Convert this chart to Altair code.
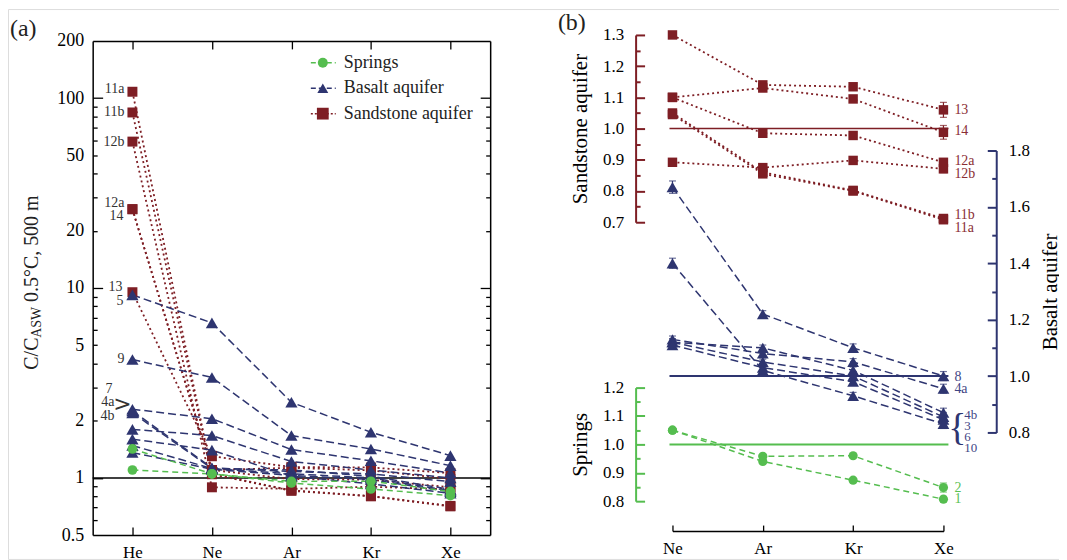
import altair as alt
import pandas as pd

W, H = 1055, 552
FONT = "Liberation Serif, Times New Roman, Tinos, DejaVu Serif, serif"
GREEN = "#55BD4F"
NAVY = "#2E3570"
RED = "#7E1E24"

# ---------------- data ----------------
elements_a = ["He", "Ne", "Ar", "Kr", "Xe"]
elements_b = ["Ne", "Ar", "Kr", "Xe"]

spring_ids = ["1", "2"]
spring_vals = [[1.42, 1.05, 0.940, 0.874, 0.807],
               [1.10, 1.05, 0.958, 0.960, 0.848]]
spring_err = [[0.004, 0.006, 0.006, 0.010],
              [0.004, 0.006, 0.006, 0.016]]

basalt_ids = ["3", "4a", "4b", "5", "6", "7", "8", "9", "10"]
basalt_vals = [[1.48, 1.12, 1.05, 1.00, 0.855],
               [2.25, 1.13, 1.08, 1.05, 0.955],
               [2.20, 1.12, 1.10, 1.02, 0.870],
               [9.20, 6.55, 2.50, 1.74, 1.31],
               [1.36, 1.11, 1.03, 0.98, 0.845],
               [2.30, 2.05, 1.41, 1.23, 1.06],
               [1.80, 1.67, 1.22, 1.10, 1.00],
               [4.20, 3.38, 1.67, 1.42, 1.16],
               [1.60, 1.40, 1.02, 0.93, 0.830]]
basalt_err = [[0.012, 0.010, 0.012, 0.016],
              [0.012, 0.010, 0.012, 0.016],
              [0.012, 0.010, 0.012, 0.016],
              [0.030, 0.020, 0.020, 0.020],
              [0.012, 0.010, 0.012, 0.016],
              [0.020, 0.012, 0.012, 0.016],
              [0.022, 0.012, 0.014, 0.016],
              [0.030, 0.020, 0.020, 0.020],
              [0.018, 0.010, 0.012, 0.016]]
basalt_in_b = ["3", "4a", "4b", "6", "8", "10"]

sand_ids = ["11a", "11b", "12a", "12b", "13", "14"]
sand_vals = [[108.0, 1.050, 0.860, 0.802, 0.712],
             [84.0, 1.045, 0.855, 0.800, 0.708],
             [26.0, 1.100, 0.985, 0.978, 0.892],
             [59.0, 0.892, 0.875, 0.898, 0.871],
             [9.5, 1.300, 1.140, 1.134, 1.060],
             [26.0, 1.100, 1.130, 1.095, 0.988]]
sand_err = [[0.005, 0.006, 0.006, 0.008],
            [0.005, 0.006, 0.006, 0.008],
            [0.005, 0.008, 0.008, 0.012],
            [0.005, 0.008, 0.008, 0.012],
            [0.006, 0.010, 0.010, 0.024],
            [0.006, 0.010, 0.010, 0.022]]

legend_names = ["Springs", "Basalt aquifer", "Sandstone aquifer"]


def long_df(group, ids, vals, elements, errs=None, keep=None):
    rows = []
    for k, (sid, v) in enumerate(zip(ids, vals)):
        if keep is not None and sid not in keep:
            continue
        vv = v[len(v) - len(elements):]
        ee = errs[k] if errs is not None else [0.0] * len(elements)
        for i, (el, val, e) in enumerate(zip(elements, vv, ee)):
            rows.append(dict(group=group, sample=sid, element=el, idx=i,
                             value=val, lo=val - e, hi=val + e))
    return pd.DataFrame(rows)


dfa = {
    "Springs": long_df("Springs", spring_ids, spring_vals, elements_a),
    "Basalt": long_df("Basalt", basalt_ids, basalt_vals, elements_a),
    "Sandstone": long_df("Sandstone", sand_ids, sand_vals, elements_a),
}
dfb = {
    "Springs": long_df("Springs", spring_ids, spring_vals, elements_b, spring_err),
    "Basalt": long_df("Basalt", basalt_ids, basalt_vals, elements_b, basalt_err, basalt_in_b),
    "Sandstone": long_df("Sandstone", sand_ids, sand_vals, elements_b, sand_err),
}

STYLE = {
    "Springs": dict(color=GREEN, dash=[6, 4], shape="circle", size=95, sw=1.5),
    "Basalt": dict(color=NAVY, dash=[8, 4], shape="triangle-up", size=150, sw=1.5),
    "Sandstone": dict(color=RED, dash=[2, 3], shape="square", size=100, sw=1.8),
}

# ---------------- scales ----------------
def xa(axis=None):
    return alt.X("element:N", title=None, axis=axis,
                 scale=alt.Scale(type="point", domain=elements_a, range=[85, 484], padding=0.5))


def ya(field="value", axis=None):
    return alt.Y(f"{field}:Q", title=None, axis=axis,
                 scale=alt.Scale(type="log", domain=[0.5, 200], range=[528, 32], nice=False))


def xb(axis=None):
    return alt.X("element:N", title=None, axis=axis,
                 scale=alt.Scale(type="point", domain=elements_b, range=[667, 939], padding=0))


YB = {
    "Sandstone": ([0.7, 1.3], [214, 26]),
    "Basalt": ([0.8, 1.8], [425, 142]),
    "Springs": ([0.8, 1.2], [494, 380]),
}


def yb(group, field="value", axis=None):
    dom, rng = YB[group]
    return alt.Y(f"{field}:Q", title=None, axis=axis,
                 scale=alt.Scale(domain=dom, range=rng, nice=False, zero=False))


def ax(**kw):
    base = dict(grid=False, labelFont=FONT, labelColor="black", titleFont=FONT,
                titleColor="black", titleFontWeight="normal", labelFlush=False,
                labelOverlap=False)
    base.update(kw)
    return alt.Axis(**base)


def tick_axis(orient, offset, size, color, width=1.3, values=None, domain=False, dwidth=1.5):
    kw = dict(orient=orient, offset=offset, ticks=True, tickSize=size, tickColor=color,
              tickWidth=width, labels=False, domain=domain, title=None)
    if values is not None:
        kw["values"] = values
    if domain:
        kw.update(domainColor=color, domainWidth=dwidth)
    return ax(**kw)


carrier_df = pd.DataFrame({"element": ["Ne"], "value": [1.0]})


def carrier(x, y):
    return alt.Chart(carrier_df).mark_point(opacity=0).encode(x=x, y=y)


layers = []

# ---------------- panel (a) axes ----------------
MAJOR_A = [1, 10, 100]
MINOR_A = [0.6, 0.7, 0.8, 0.9, 2, 3, 4, 5, 6, 7, 8, 9, 20, 30, 40, 50, 60, 70, 80, 90]

ya_lab = ax(orient="left", offset=-85, values=[0.5, 1, 2, 5, 10, 20, 50, 100, 200],
            format="~g", ticks=False, tickSize=0, domain=True, domainColor="black",
            domainWidth=1.5, labelPadding=9, labelFontSize=18, title=None)
xa_lab = ax(orient="bottom", offset=528 - H, ticks=False, tickSize=0, domain=True,
            domainColor="black", domainWidth=1.5, labelPadding=10, labelFontSize=17,
            labelAngle=0, labelAlign="center", labelBaseline="top", title=None)

layers += [
    carrier(xa(xa_lab), ya(axis=ya_lab)),
    carrier(xa(tick_axis("top", -528, 8, "black")),
            ya(axis=tick_axis("right", 85 - W, 10, "black", values=MAJOR_A))),
    carrier(xa(tick_axis("bottom", 32 - H, 8, "black", domain=True)),
            ya(axis=tick_axis("right", 85 - W, 4.5, "black", values=MINOR_A))),
    carrier(xa(), ya(axis=tick_axis("left", -484, 10, "black", values=MAJOR_A, domain=True))),
    carrier(xa(), ya(axis=tick_axis("left", -484, 4.5, "black", values=MINOR_A))),
]

# reference line at 1
layers.append(alt.Chart(pd.DataFrame({"value": [1.0]})).mark_rule(color="black", strokeWidth=1.5)
              .encode(y=ya(), x=alt.value(85), x2=alt.value(484)))

order_groups = ["Sandstone", "Basalt", "Springs"]
for g in order_groups:
    s = STYLE[g]
    layers.append(alt.Chart(dfa[g]).mark_line(color=s["color"], strokeDash=s["dash"],
                                              strokeWidth=s["sw"])
                  .encode(x=xa(), y=ya(), detail="sample:N", order="idx:Q"))
for g in order_groups:
    s = STYLE[g]
    layers.append(alt.Chart(dfa[g]).mark_point(filled=True, shape=s["shape"], size=s["size"],
                                               color=s["color"], opacity=1)
                  .encode(x=xa(), y=ya()))

# labels at He
he_val = {}
for ids, vals in [(spring_ids, spring_vals), (basalt_ids, basalt_vals), (sand_ids, sand_vals)]:
    for sid, v in zip(ids, vals):
        he_val[sid] = v[0]

labels_a = [("11a", "11a", -3, -8), ("11b", "11b", 0, -8), ("12b", "12b", 0, -8),
            ("12a", "12a", -6, -8), ("14", "14", 7, -9), ("13", "13", -5, -10),
            ("5", "5", 6, -9), ("9", "9", -1, -8), ("7", "4a", -22, -20),
            ("4a", "4a", -9, -18), ("4b", "4a", 5, -18)]
for text, anchor, dy, dx in labels_a:
    d = pd.DataFrame({"element": ["He"], "value": [he_val[anchor]], "t": [text]})
    layers.append(alt.Chart(d).mark_text(align="right", baseline="middle", dx=dx, dy=dy,
                                         font=FONT, fontSize=14, color="#333333")
                  .encode(x=xa(), y=ya(), text="t:N"))
d = pd.DataFrame({"element": ["He"], "value": [he_val["4a"]], "t": [">"]})
layers.append(alt.Chart(d).mark_text(align="center", baseline="middle", dx=-10, dy=-7,
                                     font="DejaVu Sans", fontSize=22, color="#333333")
              .encode(x=xa(), y=ya(), text="t:N"))

# legend (panel a)
leg_df = pd.DataFrame({"name": legend_names})
ly = alt.Y("name:N", axis=None, scale=alt.Scale(type="point", domain=legend_names,
                                                  range=[54, 105], padding=0))
lcol = alt.Color("name:N", legend=None,
                 scale=alt.Scale(domain=legend_names, range=[GREEN, NAVY, RED]))
layers += [
    alt.Chart(leg_df).mark_rule(strokeWidth=1.5).encode(
        y=ly, x=alt.value(304), x2=alt.value(329), color=lcol,
        strokeDash=alt.StrokeDash("name:N", legend=None,
                                  scale=alt.Scale(domain=legend_names,
                                                  range=[[5, 3], [5, 3], [2, 2]]))),
    alt.Chart(leg_df).mark_point(filled=True, opacity=1).encode(
        y=ly, x=alt.value(316), color=lcol,
        size=alt.Size("name:N", legend=None,
                      scale=alt.Scale(domain=legend_names, range=[100, 140, 100])),
        shape=alt.Shape("name:N", legend=None,
                        scale=alt.Scale(domain=legend_names,
                                        range=["circle", "triangle-up", "square"]))),
    alt.Chart(leg_df).mark_text(align="left", baseline="middle", font=FONT, fontSize=18,
                                color="#222222").encode(y=ly, x=alt.value(337), text="name:N"),
]

# y title of panel (a) with subscript
for txt, xx, yy, fs in [("C/C", 30, 362, 20), ("ASW", 33, 330, 14), ("0.5°C, 500 m", 30, 294, 20)]:
    layers.append(alt.Chart(pd.DataFrame({"t": [txt]})).mark_text(
        angle=270, align="left", baseline="alphabetic", font=FONT, fontSize=fs, color="#222222")
        .encode(x=alt.value(xx), y=alt.value(yy), text="t:N"))

for txt, xx, yy in [("(a)", 2, 27), ("(b)", 552, 21)]:
    layers.append(alt.Chart(pd.DataFrame({"t": [txt]})).mark_text(
        align="left", baseline="alphabetic", font=FONT, fontSize=24, color="#222222")
        .encode(x=alt.value(xx), y=alt.value(yy), text="t:N"))

# ---------------- panel (b) axes ----------------
S_MAJ = [0.7, 0.8, 0.9, 1.0, 1.1, 1.2, 1.3]
S_MIN = [0.75, 0.85, 0.95, 1.05, 1.15, 1.25]
G_MAJ = [0.8, 0.9, 1.0, 1.1, 1.2]
G_MIN = [0.85, 0.95, 1.05, 1.15]
B_MAJ = [0.8, 1.0, 1.2, 1.4, 1.6, 1.8]
B_MIN = [0.9, 1.1, 1.3, 1.5, 1.7]

xb_lab = ax(orient="bottom", offset=524 - H, ticks=False, tickSize=0, domain=True,
            domainColor="black", domainWidth=1.5, labelPadding=10, labelFontSize=17,
            labelAngle=0, labelAlign="center", labelBaseline="top", title=None)


def left_lab(values, color, title):
    return ax(orient="left", offset=-630, values=values, format=".1f", ticks=False, tickSize=0,
              domain=True, domainColor=color, domainWidth=2, labelPadding=12,
              labelFontSize=17, title=title, titleFontSize=21, titlePadding=12)


yb_lab = ax(orient="right", offset=992 - W, values=B_MAJ, format=".1f", ticks=False, tickSize=0,
            domain=True, domainColor=NAVY, domainWidth=2, labelPadding=12, labelFontSize=17,
            title="Basalt aquifer", titleFontSize=21, titleAngle=270, titleBaseline="top",
            titlePadding=10)

layers += [
    carrier(xb(xb_lab), yb("Sandstone", axis=left_lab(S_MAJ, RED, "Sandstone aquifer"))),
    carrier(xb(tick_axis("top", -524, 6, "black")),
            yb("Sandstone", axis=tick_axis("right", 630 - W, 9, RED, 2, values=S_MAJ))),
    carrier(xb(), yb("Sandstone", axis=tick_axis("right", 630 - W, 4.5, RED, 2, values=S_MIN))),
    carrier(xb(), yb("Springs", axis=left_lab(G_MAJ, GREEN, "Springs"))),
    carrier(xb(), yb("Springs", axis=tick_axis("right", 630 - W, 9, GREEN, 2, values=G_MAJ))),
    carrier(xb(), yb("Springs", axis=tick_axis("right", 630 - W, 4.5, GREEN, 2, values=G_MIN))),
    carrier(xb(), yb("Basalt", axis=yb_lab)),
    carrier(xb(), yb("Basalt", axis=tick_axis("left", -992, 9, NAVY, 2, values=B_MAJ))),
    carrier(xb(), yb("Basalt", axis=tick_axis("left", -992, 4.5, NAVY, 2, values=B_MIN))),
]

one = pd.DataFrame({"value": [1.0]})
for g, sw in [("Sandstone", 1.5), ("Basalt", 2.0), ("Springs", 2.0)]:
    layers.append(alt.Chart(one).mark_rule(color=STYLE[g]["color"], strokeWidth=sw)
                  .encode(y=yb(g), x=alt.value(664), x2=alt.value(944)))

for g in order_groups:
    s = STYLE[g]
    d = dfb[g]
    caps = pd.concat([d.assign(cap=d["lo"]), d.assign(cap=d["hi"])], ignore_index=True)
    layers += [
        alt.Chart(d).mark_line(color=s["color"], strokeDash=s["dash"], strokeWidth=s["sw"])
        .encode(x=xb(), y=yb(g), detail="sample:N", order="idx:Q"),
        alt.Chart(d).mark_rule(color=s["color"], strokeWidth=1.2)
        .encode(x=xb(), y=yb(g, "lo"), y2="hi:Q"),
        alt.Chart(caps).mark_tick(color=s["color"], thickness=1.2, size=7, orient="horizontal")
        .encode(x=xb(), y=yb(g, "cap")),
        alt.Chart(d).mark_point(filled=True, shape=s["shape"], size=s["size"] - 10,
                                color=s["color"], opacity=1)
        .encode(x=xb(), y=yb(g)),
    ]

xe_val = {}
for ids, vals in [(spring_ids, spring_vals), (basalt_ids, basalt_vals), (sand_ids, sand_vals)]:
    for sid, v in zip(ids, vals):
        xe_val[sid] = v[-1]

labels_b = [
    ("Sandstone", "13", "13", 0, 11, 14), ("Sandstone", "14", "14", -1, 11, 14),
    ("Sandstone", "12a", "12a", -1, 11, 14), ("Sandstone", "12b", "12b", 5, 11, 14),
    ("Sandstone", "11b", "11b", -5, 11, 14), ("Sandstone", "11a", "11a", 10, 11, 14),
    ("Basalt", "8", "8", 1, 11, 14), ("Basalt", "4a", "4a", 0, 11, 14),
    ("Basalt", "4b", "4b", 2, 21, 13), ("Basalt", "3", "3", 9.5, 21, 13),
    ("Basalt", "6", "6", 17, 21, 13), ("Basalt", "10", "10", 24.5, 21, 13),
    ("Springs", "2", "2", 0, 11, 14), ("Springs", "1", "1", 0, 11, 14),
]
LABEL_COL = {"Sandstone": "#8A2E34", "Basalt": "#3F4585", "Springs": "#5CC255"}
for g, text, anchor, dy, dx, fs in labels_b:
    d = pd.DataFrame({"element": ["Xe"], "value": [xe_val[anchor]], "t": [text]})
    layers.append(alt.Chart(d).mark_text(align="left", baseline="middle", dx=dx, dy=dy,
                                         font=FONT, fontSize=fs, color=LABEL_COL[g])
                  .encode(x=xb(), y=yb(g), text="t:N"))
d = pd.DataFrame({"element": ["Xe"], "value": [xe_val["4b"]], "t": ["{"]})
layers.append(alt.Chart(d).mark_text(align="center", baseline="middle", dx=14, dy=16,
                                     font=FONT, fontSize=38, fontWeight=300, color=NAVY)
              .encode(x=xb(), y=yb("Basalt"), text="t:N"))

chart = (alt.layer(*layers)
         .resolve_scale(x="independent", y="independent")
         .properties(width=W, height=H, autosize=alt.AutoSizeParams(type="none"), padding=0)
         .configure_view(stroke=None)
         .configure(background="white"))

chart.save("out.html", embed_options={"renderer": "svg", "actions": False})
